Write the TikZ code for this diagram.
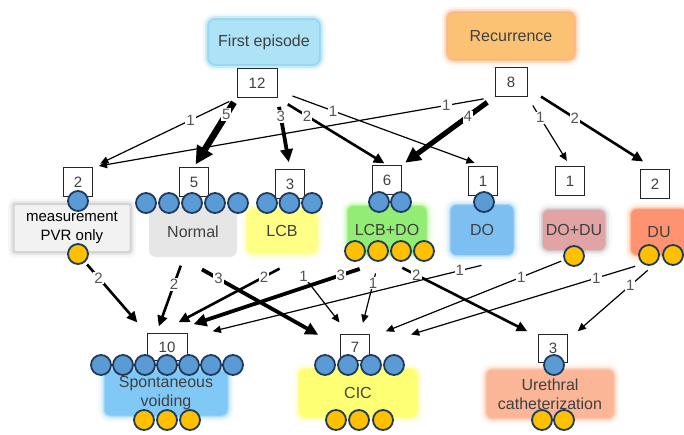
\documentclass[tikz,border=0pt]{standalone}
\usepackage{fontspec}
\setmainfont{Liberation Sans}
\usetikzlibrary{arrows.meta}
\definecolor{txtgray}{HTML}{404040}
\definecolor{lblgray}{HTML}{555555}
\definecolor{dotblue}{HTML}{5B9BD5}
\definecolor{dotorange}{HTML}{FFC000}
\definecolor{dotline}{HTML}{1F3A5C}
\definecolor{fefill}{HTML}{ADE2F7}
\definecolor{feglow}{HTML}{8CD3F2}
\definecolor{recfill}{HTML}{FCC274}
\definecolor{recglow}{HTML}{FBB384}
\definecolor{pvrfill}{HTML}{F2F2F2}
\definecolor{pvrglow}{HTML}{C9C9C9}
\definecolor{nrmfill}{HTML}{E6E6E6}
\definecolor{lcbfill}{HTML}{FFFF85}
\definecolor{lcbglow}{HTML}{FFFFB0}
\definecolor{lcbdofill}{HTML}{93EC74}
\definecolor{lcbdoglow}{HTML}{C6F5B5}
\definecolor{dofill}{HTML}{7EBFF1}
\definecolor{doglow}{HTML}{BCE2FB}
\definecolor{dodufill}{HTML}{E1A3A3}
\definecolor{doduglow}{HTML}{CFCFCF}
\definecolor{dufill}{HTML}{FF9371}
\definecolor{duglow}{HTML}{FFCDAA}
\definecolor{svfill}{HTML}{80C9F7}
\definecolor{svglow}{HTML}{B7E0FA}
\definecolor{cicfill}{HTML}{FFFF73}
\definecolor{cicglow}{HTML}{FFFFB0}
\definecolor{ucfill}{HTML}{FBB697}
\definecolor{ucglow}{HTML}{FCCDB3}
\tikzset{
  cat/.style={rounded corners=7pt, inner sep=2pt, align=center, text=txtgray,
    font=\fontsize{16}{19}\selectfont},
  glow/.style={draw=#1, line width=2pt, draw opacity=0.7,
    preaction={draw=#1, line width=11pt, draw opacity=0.15},
    preaction={draw=#1, line width=6pt, draw opacity=0.35}},
  cnt/.style={draw=black!85, line width=1pt, fill=white, minimum width=29pt,
    minimum height=29pt, inner sep=0pt, text=txtgray, font=\fontsize{15}{15}\selectfont},
  bdot/.style={circle, draw=dotline, line width=1.8pt, fill=dotblue,
    minimum size=20pt, inner sep=0pt},
  odot/.style={bdot, fill=dotorange},
  lbl/.style={fill=white, inner sep=1pt, text=lblgray, font=\fontsize{15}{15}\selectfont},
  flow/.style={line width=#1, -{Triangle[length=6pt 1.8, width=5pt 1.9]}},
  wt1/.style={flow=1.2pt},
  wt2/.style={flow=2.6pt},
  wt3/.style={flow=3.8pt},
  wt4/.style={flow=5.2pt},
  wt5/.style={flow=6.6pt}
}
\begin{document}
\begin{tikzpicture}[x=1pt, y=-1pt]
  \clip (0,0) rectangle (684,434);
  \draw
    (264,42) node[cat, glow=feglow, fill=fefill, minimum width=112pt, minimum height=46pt] (fe) {First episode}
    (511,36) node[cat, glow=recglow, fill=recfill, minimum width=128pt, minimum height=48pt] (rec) {Recurrence}
    (72,228) node[cat, glow=pvrglow, fill=pvrfill, rounded corners=2pt, text=black,
      font=\fontsize{15}{19}\selectfont, minimum width=117pt, minimum height=48pt] (pvr) {measurement\\PVR only}
    (193,232) node[cat, fill=nrmfill, minimum width=88pt, minimum height=50pt] (nrm) {Normal}
    (282,231) node[cat, glow=lcbglow, fill=lcbfill, minimum width=72pt, minimum height=46pt] (lcb) {LCB}
    (387,230) node[cat, glow=lcbdoglow, fill=lcbdofill, minimum width=81pt, minimum height=50pt] (lcbdo) {LCB+DO}
    (482,230) node[cat, glow=doglow, fill=dofill, minimum width=65pt, minimum height=52pt] (dol) {DO}
    (574,230) node[cat, glow=doduglow, fill=dodufill, minimum width=64pt, minimum height=42pt] (dodu) {DO+DU}
    (659,232) node[cat, glow=duglow, fill=dufill, minimum width=58pt, minimum height=48pt] (du) {DU}
    (166,393) node[cat, glow=svglow, fill=svfill, minimum width=125pt, minimum height=47pt] (sv) {Spontaneous\\voiding}
    (358,393) node[cat, glow=cicglow, fill=cicfill, minimum width=120pt, minimum height=50pt] (cic) {CIC}
    (550,394) node[cat, glow=ucglow, fill=ucfill, minimum width=129pt, minimum height=50pt] (uc) {Urethral\\catheterization};
  \draw
    (257,83) node[cnt, minimum width=40pt] (c12) {12}
    (511,82) node[cnt, minimum width=32pt] (c8) {8}
    (78,182) node[cnt] (c2p) {2}
    (194,182) node[cnt] (c5) {5}
    (290,184) node[cnt] (c3l) {3}
    (387,180) node[cnt] (c6) {6}
    (483,181) node[cnt] (c1o) {1}
    (570,181) node[cnt] (c1d) {1}
    (655,184) node[cnt] (c2u) {2}
    (167,347) node[cnt, minimum width=40pt, minimum height=27pt] (c10) {10}
    (355,347) node[cnt, minimum height=26pt] (c7) {7}
    (553,348) node[cnt, minimum height=28pt] (c3u) {3};
  \node[bdot] (pvrb1) at (78,201) {};
  \node[odot] (pvro1) at (78,254) {};
  \foreach \x [count=\i] in {146,169,192,215,238} \node[bdot] (nrmb\i) at (\x,203) {};
  \foreach \x [count=\i] in {267,289.5,312} \node[bdot] (lcbb\i) at (\x,203) {};
  \foreach \x [count=\i] in {379,401} \node[bdot] (lcbdob\i) at (\x,202) {};
  \foreach \x [count=\i] in {355,378,401,424} \node[odot] (lcbdoo\i) at (\x,251) {};
  \node[bdot] (dob1) at (484,202) {};
  \node[odot] (doduo1) at (574,256) {};
  \foreach \x [count=\i] in {649,673} \node[odot] (duo\i) at (\x,255) {};
  \foreach \x [count=\i] in {101,123,145,167,189,211,233} \node[bdot] (svb\i) at (\x,365) {};
  \foreach \x [count=\i] in {144,167,190} \node[odot] (svo\i) at (\x,420) {};
  \foreach \x [count=\i] in {325,348,371,394} \node[bdot] (cicb\i) at (\x,365) {};
  \foreach \x [count=\i] in {336,359,383} \node[odot] (cico\i) at (\x,420) {};
  \node[bdot] (ucb1) at (554,365) {};
  \foreach \x [count=\i] in {542,564} \node[odot] (uco\i) at (\x,420) {};
  \begin{scope}
    \draw[wt1, shorten <=8pt, shorten >=8pt] (c12.south west) to node[lbl, pos=.32] {1} (c2p.north east);
    \draw[wt5, shorten <=5pt, shorten >=3pt] (c12.south west) to node[lbl, pos=.24] {5} (c5.north);
    \draw[wt3, shorten <=9pt, shorten >=7pt] (c12.south east) to node[lbl, pos=.26] {3} (c3l.north);
    \draw[wt2, shorten <=12pt, shorten >=3pt] (c12.south east) to node[lbl, pos=.27] {2} (c6.north);
    \draw[wt1, shorten <=16pt, shorten >=9pt] (c12.-20) to node[lbl, pos=.27] {1} (c1o.north);
    \draw[wt1, shorten <=11pt, shorten >=6pt] (c8.south west) to node[lbl, pos=.12] {1} (c2p.north east);
    \draw[wt4, shorten <=9pt, shorten >=4pt] (c8.south west) to node[lbl, pos=.29] {4} (c6.north east);
    \draw[wt1, shorten <=10pt, shorten >=6pt] (c8.south east) to node[lbl, pos=.3] {1} (c1d.north);
    \draw[wt2, shorten <=16pt, shorten >=14pt] (c8.-20) to node[lbl, pos=.37] {2} (c2u.north);
    \draw[wt2, shorten <=3pt, shorten >=14pt] (pvro1) to node[lbl, pos=.22] {2} (c10.north west);
    \draw[wt2, shorten <=9pt, shorten >=7pt] (nrm.-110) to node[lbl, pos=.36] {2} (c10.127);
    \draw[wt3, shorten <=25pt, shorten >=25pt] (nrm.-117) to node[lbl, pos=.24] {3} (c7.west);
    \draw[wt2, shorten <=29pt, shorten >=23pt] (lcb.-46) to node[lbl, pos=.28] {2} (c10.122);
    \draw[wt1, shorten <=20pt, shorten >=14pt] (lcb.-78) to node[lbl, pos=.27] {1} (c7.117);
    \draw[wt3, shorten <=41pt, shorten >=28pt] (lcbdo.-66) to node[lbl, pos=.25] {3} (c10.north);
    \draw[wt1, shorten <=18pt, shorten >=11pt] (lcbdo.-105) to node[lbl, pos=.35] {1} (c7.69);
    \draw[wt2, shorten <=26pt, shorten >=12pt] (lcbdo.-107) to node[lbl, pos=.235] {2} (c3u.143);
    \draw[wt1, shorten <=35pt, shorten >=26pt] (dol.south east) to node[lbl, pos=.17] {1} (c10.25);
    \draw[wt1, shorten <=3pt, shorten >=17pt] (doduo1) to node[lbl, pos=.22] {1} (c7.32);
    \draw[wt1, shorten <=8pt, shorten >=43pt] (duo1.235) to node[lbl, pos=.17] {1} (c7.east);
    \draw[wt1, shorten <=9pt, shorten >=13pt] (duo1.-60) to node[lbl, pos=.28] {1} (c3u.29);
  \end{scope}
\end{tikzpicture}
\end{document}
